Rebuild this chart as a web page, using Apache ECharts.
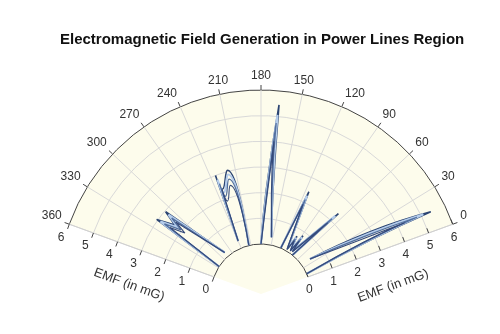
<!DOCTYPE html>
<html>
<head>
<meta charset="utf-8">
<script src="https://cdn.jsdelivr.net/npm/echarts@6/dist/echarts.min.js"></script>
<style>
  html, body { margin: 0; padding: 0; background: #ffffff; }
  #chart { width: 500px; height: 334px; }
</style>
</head>
<body>
<div id="chart"></div>
<script>
// Angular ticks (degrees) and radial ticks (mG)
const angleTicks = [0, 30, 60, 90, 120, 150, 180, 210, 240, 270, 300, 330, 360];
const radialTicks = [0, 1, 2, 3, 4, 5, 6];

// Each run is a list of lobes; a lobe is a list of [bearing (deg), field (mG)] samples.
const emfRun1 = [
  [[10, 0], [16, 2.8], [15, 5.4], [25, 2.95], [40, 0.4]],
  [[80, 0], [67, 2.4], [86, 0.15], [88, 0.85], [92, 0.15], [98, 0.7], [102, 0.1], [115.5, 2.45], [120, 0]],
  [[180, 0], [172.6, 2.1], [166, 5.45], [163, 2.1], [153, 0.3]],
  [[216, 0], [219, 3.05], [232, 2.4], [234, 3.0], [240, 0.3]],
  [[286, 0.2], [306.5, 2.96], [312, 2.35], [320, 3.05], [326, 0]]
];
const emfRun2 = [
  [[10, 0], [16.5, 2.75], [15.8, 5.1], [24, 2.85], [40, 0.4]],
  [[80, 0], [68, 2.25], [86, 0.15], [88, 0.78], [92, 0.12], [98, 0.64], [102, 0.1], [115.5, 2.28], [120, 0]],
  [[180, 0], [172, 2.05], [166.5, 5.06], [163.5, 2.05], [153, 0.3]],
  [[216, 0], [219.5, 2.88], [232, 2.25], [233.5, 2.82], [240, 0.3]],
  [[286, 0.2], [307, 2.8], [312, 2.2], [319.5, 2.88], [326, 0]]
];
const emfRun3 = [
  [[10, 0], [17, 2.7], [16, 4.82], [23, 2.75], [40, 0.4]],
  [[80, 0], [68.5, 2.08], [86, 0.12], [88, 0.7], [92, 0.1], [98, 0.58], [102, 0.08], [115.5, 2.12], [120, 0]],
  [[180, 0], [171.5, 2.0], [167, 4.74], [164, 2.0], [153, 0.3]],
  [[216, 0], [220, 2.7], [231.5, 2.1], [233, 2.64], [240, 0.3]],
  [[286, 0.2], [307.5, 2.62], [312, 2.05], [319, 2.7], [326, 0]]
];
const emfRun4 = [
  [[10, 0], [17.5, 2.5], [16.5, 4.3], [22, 2.5], [40, 0.4]],
  [[80, 0], [69, 1.85], [86, 0.1], [88, 0.6], [92, 0.08], [98, 0.5], [102, 0.05], [115.5, 1.9], [120, 0]],
  [[180, 0], [171, 1.9], [167.5, 4.02], [164.5, 1.9], [153, 0.3]],
  [[216, 0], [220.5, 2.45], [231, 1.9], [232.5, 2.4], [240, 0.3]],
  [[286, 0.2], [308, 2.4], [312, 1.85], [318.5, 2.45], [326, 0]]
];

const runs = [
  { name: 'Run 1', lobes: emfRun1, color: '#2b4472', width: 1.6 },
  { name: 'Run 2', lobes: emfRun2, color: '#b4cceb', width: 2.2 },
  { name: 'Run 3', lobes: emfRun3, color: '#53709f', width: 1.3 },
  { name: 'Run 4', lobes: emfRun4, color: '#34497a', width: 1.1 }
];

const CENTER = [261, 294];
const HOLE = 50;
const OUTER = 204;
const FONT = 'Liberation Sans, Arial, Helvetica, sans-serif';

// Flatten lobes into [radius, angle] pairs with gaps between lobes
function toPolarData(lobes) {
  const out = [];
  lobes.forEach((lobe, k) => {
    if (k > 0) out.push(['-', lobe[0][0]]);
    lobe.forEach(([deg, val]) => out.push([val, deg]));
  });
  return out;
}

const chart = echarts.init(document.getElementById('chart'), null, { renderer: 'canvas' });

const radialCommon = {
  type: 'value',
  min: radialTicks[0],
  max: radialTicks[radialTicks.length - 1],
  interval: 1,
  name: 'EMF (in mG)',
  nameLocation: 'middle',
  nameTextStyle: { fontFamily: FONT, fontSize: 13, color: '#333' },
  axisLine: { show: true, lineStyle: { color: '#d0d0d0', width: 1 } }
};

chart.setOption({
  animation: false,
  backgroundColor: '#ffffff',
  title: {
    text: 'Electromagnetic Field Generation in Power Lines Region',
    left: 55,
    top: 27,
    textStyle: { fontFamily: FONT, fontSize: 15, fontWeight: 'bold', color: '#111' }
  },
  polar: [
    { center: CENTER, radius: [HOLE, OUTER] },
    { center: CENTER, radius: [HOLE, OUTER] }
  ],
  angleAxis: [
    {
      polarIndex: 0, type: 'value',
      min: angleTicks[0], max: angleTicks[angleTicks.length - 1], interval: 30,
      startAngle: 20, endAngle: 160, clockwise: false,
      axisLine: { show: false },
      axisTick: { show: true, inside: false, length: 5, lineStyle: { color: '#444' } },
      axisLabel: { show: true, fontFamily: FONT, fontSize: 12, color: '#333', margin: 8 },
      splitLine: { show: true, lineStyle: { color: '#d9d9d9', width: 1 } }
    },
    {
      polarIndex: 1, type: 'value', min: 0, max: 360,
      startAngle: 160, endAngle: 20, clockwise: true,
      axisLine: { show: false }, axisTick: { show: false },
      axisLabel: { show: false }, splitLine: { show: false }
    }
  ],
  radiusAxis: [
    Object.assign({}, radialCommon, {
      polarIndex: 0,
      nameGap: 31,
      axisTick: { show: true, inside: true, length: 5, lineStyle: { color: '#444', width: 1 } },
      axisLabel: { show: true, fontFamily: FONT, fontSize: 12, color: '#333', margin: -14 },
      splitLine: {
        show: true,
        lineStyle: { color: ['#444', '#d9d9d9', '#d9d9d9', '#d9d9d9', '#d9d9d9', '#d9d9d9', '#444'], width: 1 }
      }
    }),
    Object.assign({}, radialCommon, {
      polarIndex: 1,
      nameGap: -43,
      nameRotate: -20,
      axisTick: { show: true, length: 5, lineStyle: { color: '#444', width: 1 } },
      axisLabel: { show: true, fontFamily: FONT, fontSize: 12, color: '#333', margin: 14 },
      splitLine: { show: false }
    })
  ],
  series: [
    {
      // sector backdrop, including the wedge behind the hole
      type: 'pie',
      silent: true,
      z: -10,
      center: CENTER,
      radius: [0, OUTER],
      startAngle: 160,
      endAngle: 20,
      clockwise: true,
      label: { show: false },
      labelLine: { show: false },
      itemStyle: { color: '#fdfcec', borderWidth: 0 },
      emphasis: { disabled: true },
      data: [{ value: 1, name: 'sector' }]
    }
  ].concat(runs.map(run => ({
    name: run.name,
    type: 'line',
    coordinateSystem: 'polar',
    polarIndex: 0,
    showSymbol: false,
    smooth: 0.5,
    connectNulls: false,
    lineStyle: { color: run.color, width: run.width },
    data: toPolarData(run.lobes)
  })))
});
</script>
</body>
</html>
